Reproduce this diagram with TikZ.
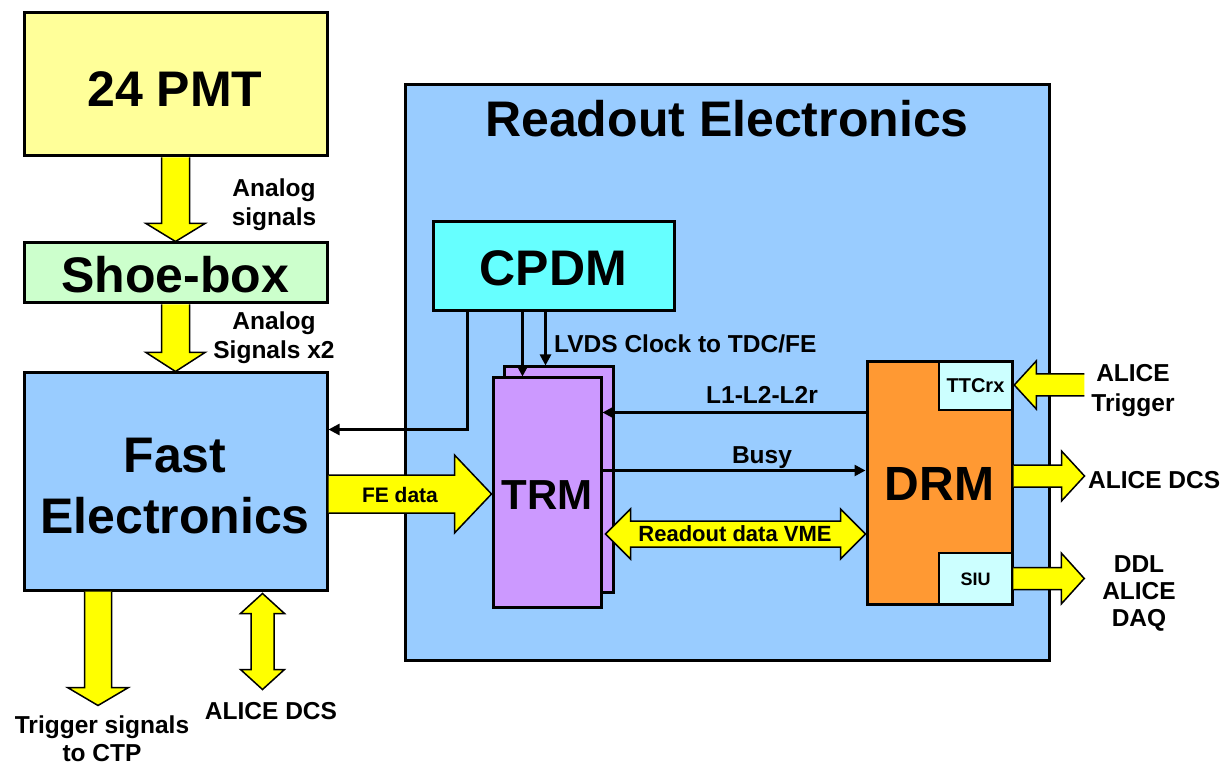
\documentclass[tikz,border=0pt]{standalone}
\usepackage{fontspec}
\setmainfont{Liberation Sans}
\usetikzlibrary{calc,arrows.meta}
\definecolor{pmtc}{HTML}{FFFF99}
\definecolor{shoec}{HTML}{CCFFCC}
\definecolor{bluec}{HTML}{99CCFF}
\definecolor{cpdmc}{HTML}{66FFFF}
\definecolor{trmc}{HTML}{CC99FF}
\definecolor{drmc}{HTML}{FF9933}
\definecolor{smallc}{HTML}{CCFFFF}
\definecolor{arrowc}{HTML}{FFFF00}
\newcommand{\fsz}[1]{\fontsize{#1}{#1}\selectfont}
% single fat arrow: #1 start, #2 tip, #3 shaft half width, #4 head half width, #5 head length
\newcommand{\fatarrow}[5]{%
  \coordinate (fab) at ($(#2)!#5!(#1)$);
  \fill[arrowc] ($(#1)!#3!90:(#2)$) -- ($(fab)!#3!90:(#2)$) -- ($(fab)!#4!90:(#2)$) -- (#2)
    -- ($(fab)!#4!-90:(#2)$) -- ($(fab)!#3!-90:(#2)$) -- ($(#1)!#3!-90:(#2)$) -- cycle;
  \draw[fatline] ($(#1)!#3!90:(#2)$) -- ($(fab)!#3!90:(#2)$) -- ($(fab)!#4!90:(#2)$) -- (#2)
    -- ($(fab)!#4!-90:(#2)$) -- ($(fab)!#3!-90:(#2)$) -- ($(#1)!#3!-90:(#2)$);
}
% double fat arrow
\newcommand{\fatdouble}[5]{%
  \coordinate (fba) at ($(#1)!#5!(#2)$);
  \coordinate (fbb) at ($(#2)!#5!(#1)$);
  \filldraw[fatline,fill=arrowc] (#1) -- ($(fba)!#4!90:(#2)$) -- ($(fba)!#3!90:(#2)$)
    -- ($(fbb)!#3!90:(#2)$) -- ($(fbb)!#4!90:(#2)$) -- (#2)
    -- ($(fbb)!#4!-90:(#2)$) -- ($(fbb)!#3!-90:(#2)$)
    -- ($(fba)!#3!-90:(#2)$) -- ($(fba)!#4!-90:(#2)$) -- cycle;
}
\begin{document}
\begin{tikzpicture}[x=1pt,y=-1pt,
  box/.style={draw=black,line width=3pt,inner sep=0pt,anchor=center},
  bigtxt/.style={font=\bfseries\fsz{50},inner sep=0pt,anchor=base},
  lbl/.style={font=\bfseries\fsz{24.5},inner sep=0pt,anchor=base,align=center},
  two/.style={font=\bfseries\fontsize{24.5}{29}\selectfont},
  conn/.style={line width=2.5pt,-{Triangle[length=11pt,width=11pt]}},
  fatline/.style={draw=black,line width=1.5pt,line join=miter}]
\useasboundingbox (0,0) rectangle (1227,767);
\fill[white] (0,0) rectangle (1227,767);

% boxes
\node[box,fill=bluec,minimum width=644pt,minimum height=575pt] (readout) at (727,372.5) {};
\node[box,fill=pmtc,minimum width=303pt,minimum height=143pt] (pmt) at (175.5,84.5) {};
\node[box,fill=shoec,minimum width=303pt,minimum height=60pt] (shoe) at (175.5,273) {};
\node[box,fill=bluec,minimum width=303pt,minimum height=217pt] (fast) at (175.5,481.5) {};
\node[box,fill=cpdmc,minimum width=241pt,minimum height=89pt] (cpdm) at (553.5,266.5) {};
\node[box,fill=trmc,minimum width=109pt,minimum height=225pt] (trmback) at (558.5,479.5) {};
\node[box,fill=trmc,minimum width=108pt,minimum height=229pt] (trm) at (547,492.5) {};
\node[box,fill=drmc,minimum width=145pt,minimum height=242pt] (drm) at (939.5,483) {};
\node[box,fill=smallc,line width=2.5pt,minimum width=73pt,minimum height=48pt] (ttcrx) at (975.5,386) {};
\node[box,fill=smallc,line width=2.5pt,minimum width=73pt,minimum height=51pt] (siu) at (975.5,578.5) {};

% box texts
\node[bigtxt] (pmtt) at (175,107) {24 PMT};
\node[bigtxt] (shoet) at (175,293) {Shoe-box};
\node[bigtxt,align=center,font=\bfseries\fontsize{50}{61}\selectfont] (fastt) at (175,533) {Fast\\Electronics};
\node[bigtxt] (readoutt) at (727,137) {Readout Electronics};
\node[bigtxt] (cpdmt) at (553.5,286) {CPDM};
\node[bigtxt,font=\bfseries\fsz{42}] (trmt) at (547,509) {TRM};
\node[bigtxt,font=\bfseries\fsz{48}] (drmt) at (939.5,500) {DRM};
\node[bigtxt,font=\bfseries\fsz{20}] (ttcrxt) at (975.5,393) {TTCrx};
\node[bigtxt,font=\bfseries\fsz{18}] (siut) at (975.5,585) {SIU};

% thin connectors
\draw[conn] ($(cpdm.south west)+(36,0)$) |- ($(fast.north east)+(0,58)$);
\draw[conn] ($(cpdm.south west)+(91,0)$) -- ($(trm.north west)+(31,0)$);
\draw[conn] ($(cpdm.south west)+(114,0)$) -- ($(trmback.north west)+(43,0)$);
\draw[conn] ($(drm.north west)+(0,52)$) -- ($(trm.north east)+(0,36)$);
\draw[conn] ($(trm.north east)+(0,94)$) -- ($(drm.north west)+(0,110)$);

% fat arrows
\fatarrow{pmt.south}{shoe.north}{14pt}{29.5pt}{18pt}
\fatarrow{shoe.south}{fast.north}{14pt}{29.5pt}{19pt}
\coordinate (fes) at ($(fast.east)+(0,12.5)$);
\coordinate (fee) at (trm.west |- fes);
\fatarrow{fes}{fee}{19pt}{39pt}{37pt}
\coordinate (trs) at ($(fast.south west)+(75.5,0)$);
\coordinate (tre) at ($(trs)+(0,114)$);
\fatarrow{trs}{tre}{13.5pt}{30.5pt}{18pt}
\coordinate (dcs1) at ($(fast.south west)+(240,2)$);
\coordinate (dcs2) at ($(dcs1)+(0,96)$);
\fatdouble{dcs1}{dcs2}{11.5pt}{22pt}{20pt}
\coordinate (ats) at ($(ttcrx.east)+(71,-1)$);
\coordinate (ate) at ($(ttcrx.east)+(1,-1)$);
\fatarrow{ats}{ate}{11pt}{24pt}{22pt}
\coordinate (dr1) at ($(drm.east)+(0,-7)$);
\coordinate (dr2) at ($(dr1)+(71,0)$);
\fatarrow{dr1}{dr2}{11pt}{25pt}{23pt}
\coordinate (s1) at (siu.east);
\coordinate (s2) at ($(s1)+(71,0)$);
\fatarrow{s1}{s2}{11pt}{25.5pt}{23pt}
\coordinate (v1) at ($(trm.east)+(3,41.5)$);
\coordinate (v2) at (drm.west |- v1);
\fatdouble{v1}{v2}{13pt}{25pt}{25pt}

% labels (multi-line nodes: base = last line)
\node[lbl,two] (l1) at (274,226) {Analog\\signals};
\node[lbl,two] (l2) at (274,359) {Analog\\Signals x2};
\node[lbl,anchor=base west] (l3) at (554,353) {LVDS Clock to TDC/FE};
\node[lbl] (l4) at (762,403) {L1-L2-L2r};
\node[lbl] (l5) at (762,463) {Busy};
\node[lbl,font=\bfseries\fsz{22}] (l6) at (735,541) {Readout data VME};
\node[lbl,font=\bfseries\fsz{21}] (l7) at (400,502) {FE data};
\node[lbl,two] (l8) at (1133,411) {ALICE\\Trigger};
\node[lbl,anchor=base west] (l9) at (1088,488) {ALICE DCS};
\node[lbl,font=\bfseries\fontsize{24.5}{27}\selectfont] (l10) at (1139,626) {DDL\\ALICE\\DAQ};
\node[lbl,font=\bfseries\fontsize{24.5}{28}\selectfont] (l11) at (102,761) {Trigger signals\\to CTP};
\node[lbl] (l12) at (271,719) {ALICE DCS};
\end{tikzpicture}
\end{document}
